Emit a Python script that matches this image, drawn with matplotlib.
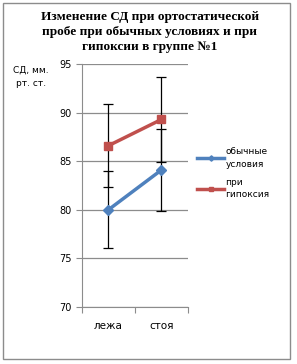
import matplotlib.pyplot as plt
from matplotlib.patches import Rectangle

positions = ["лежа", "стоя"]
normal = [80.0, 84.1]
normal_err = [3.95, 4.2]
hypoxia = [86.6, 89.3]
hypoxia_err = [4.3, 4.4]

fig = plt.figure(figsize=(2.97, 3.64), dpi=100)
fig.patches.append(Rectangle((0.011, 0.014), 0.966, 0.978, transform=fig.transFigure,
                             fill=False, edgecolor="#8c8c8c", linewidth=1.0))

ax = fig.add_axes([0.276, 0.157, 0.357, 0.667])
x = [0.5, 1.5]

# error bars first, lines on top
ax.errorbar(x, normal, yerr=normal_err, fmt="none", ecolor="black", elinewidth=0.9,
            capsize=3.5, capthick=0.9, zorder=2)
ax.errorbar(x, hypoxia, yerr=hypoxia_err, fmt="none", ecolor="black", elinewidth=0.9,
            capsize=3.5, capthick=0.9, zorder=2)
ax.plot(x, normal, color="#4F81BD", marker="D", markersize=5.5, linewidth=2.5,
        label="обычные\nусловия", zorder=3)
ax.plot(x, hypoxia, color="#C0504D", marker="s", markersize=6, linewidth=2.5,
        label="при\nгипоксия", zorder=3)

ax.set_xlim(0, 2)
ax.set_ylim(70, 95)
ax.set_yticks([70, 75, 80, 85, 90, 95])
ax.yaxis.grid(True, color="#8c8c8c", linewidth=0.9)
ax.set_axisbelow(True)
ax.set_xticks([0, 1, 2])
ax.set_xticklabels([])
ax.set_xticks(x, minor=True)
ax.set_xticklabels(positions, minor=True, fontsize=7.5)
ax.tick_params(axis="x", which="minor", length=0, pad=10)
ax.tick_params(axis="x", which="major", length=4, direction="out", color="#8c8c8c")
ax.tick_params(axis="y", length=4, color="#8c8c8c", labelsize=7)
for s in ["top", "right"]:
    ax.spines[s].set_visible(False)
ax.spines["left"].set_color("#8c8c8c")
ax.spines["bottom"].set_color("#8c8c8c")

fig.text(0.105, 0.79, "СД, мм.\nрт. ст.", ha="center", va="center", fontsize=6.5,
         linespacing=1.6)

fig.text(0.505, 0.913, "Изменение СД при ортостатической\nпробе при обычных условиях и при\nгипоксии в группе №1",
         ha="center", va="center", fontsize=9.5, fontweight="bold",
         family="Liberation Serif", linespacing=1.35)

leg = ax.legend(loc="center left", bbox_to_anchor=(1.0, 0.55), frameon=False,
                fontsize=6.5, handlelength=3.0, handletextpad=0.15, labelspacing=1.0,
                borderaxespad=0.6, markerscale=0.5)
for t in leg.get_texts():
    t.set_linespacing(1.5)

plt.savefig("out.png", dpi=100)
